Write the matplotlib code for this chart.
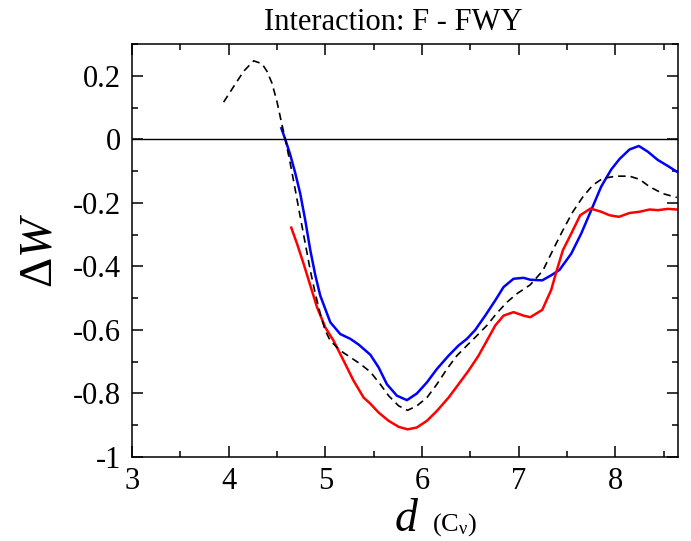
import matplotlib
matplotlib.use("Agg")
import matplotlib.pyplot as plt
from matplotlib.ticker import MultipleLocator

plt.rcParams["font.family"] = ["Liberation Serif", "DejaVu Serif"]
plt.rcParams["mathtext.fontset"] = "custom"
plt.rcParams["mathtext.rm"] = "Liberation Serif"
plt.rcParams["mathtext.it"] = "Liberation Serif:italic"
plt.rcParams["axes.unicode_minus"] = False

# total (dashed black)
total_d = [3.948, 4.052, 4.155, 4.259, 4.345, 4.397, 4.448, 4.5, 4.541, 4.586,
           4.638, 4.69, 4.741, 4.793, 4.845, 4.897, 4.948, 5.0, 5.052, 5.155,
           5.259, 5.362, 5.466, 5.569, 5.655, 5.759, 5.852, 5.948, 6.052, 6.155,
           6.259, 6.362, 6.466, 6.569, 6.672, 6.776, 6.879, 6.983, 7.121, 7.252,
           7.355, 7.459, 7.562, 7.666, 7.769, 7.872, 8.01, 8.148, 8.252, 8.355,
           8.493, 8.638]
total_w = [0.117, 0.166, 0.214, 0.247, 0.238, 0.214, 0.177, 0.119, 0.061, 0.0,
           -0.076, -0.16, -0.244, -0.328, -0.413, -0.486, -0.549, -0.602, -0.634, -0.665,
           -0.686, -0.707, -0.732, -0.771, -0.807, -0.839, -0.853, -0.839, -0.813, -0.771,
           -0.723, -0.681, -0.649, -0.618, -0.586, -0.547, -0.513, -0.486, -0.458, -0.413,
           -0.349, -0.286, -0.228, -0.181, -0.144, -0.123, -0.116, -0.116, -0.126, -0.149,
           -0.171, -0.183]

# blue series
blue_d = [4.545, 4.586, 4.638, 4.69, 4.741, 4.793, 4.845, 4.897, 4.948, 5.0,
          5.052, 5.155, 5.259, 5.345, 5.466, 5.552, 5.638, 5.741, 5.845, 5.948,
          6.052, 6.155, 6.276, 6.379, 6.466, 6.552, 6.655, 6.759, 6.845, 6.948,
          7.052, 7.121, 7.245, 7.338, 7.424, 7.545, 7.648, 7.752, 7.855, 7.959,
          8.045, 8.148, 8.245, 8.338, 8.441, 8.545, 8.638]
blue_w = [0.035, 0.0, -0.049, -0.107, -0.171, -0.255, -0.349, -0.428, -0.492, -0.534,
          -0.576, -0.613, -0.628, -0.646, -0.678, -0.718, -0.771, -0.807, -0.821, -0.8,
          -0.765, -0.723, -0.681, -0.649, -0.628, -0.6, -0.555, -0.507, -0.465, -0.439,
          -0.436, -0.442, -0.444, -0.428, -0.411, -0.36, -0.297, -0.223, -0.149, -0.095,
          -0.062, -0.032, -0.021, -0.039, -0.065, -0.084, -0.102]

# red series
red_d = [4.648, 4.707, 4.776, 4.845, 4.914, 5.0, 5.086, 5.19, 5.293, 5.397,
         5.466, 5.552, 5.655, 5.759, 5.852, 5.948, 6.052, 6.155, 6.276, 6.379,
         6.483, 6.586, 6.672, 6.759, 6.845, 6.948, 7.052, 7.121, 7.245, 7.338,
         7.39, 7.459, 7.545, 7.638, 7.745, 7.855, 7.941, 8.038, 8.148, 8.252,
         8.355, 8.441, 8.545, 8.638]
red_w = [-0.278, -0.328, -0.392, -0.46, -0.528, -0.592, -0.634, -0.697, -0.76, -0.813,
         -0.832, -0.86, -0.886, -0.905, -0.913, -0.907, -0.886, -0.855, -0.813, -0.771,
         -0.728, -0.681, -0.634, -0.586, -0.555, -0.544, -0.555, -0.56, -0.537, -0.474,
         -0.418, -0.349, -0.297, -0.239, -0.218, -0.228, -0.239, -0.244, -0.232, -0.228,
         -0.221, -0.223, -0.219, -0.221]

xticks = [3, 4, 5, 6, 7, 8]
xtick_labels = ["3", "4", "5", "6", "7", "8"]
yticks = [-1, -0.8, -0.6, -0.4, -0.2, 0, 0.2]
ytick_labels = ["-1", "-0.8", "-0.6", "-0.4", "-0.2", "0", "0.2"]

fig = plt.figure(figsize=(6.91, 5.41), dpi=100)
ax = fig.add_axes([132 / 691, 1 - 457 / 541, 546 / 691, 413 / 541])

ax.axhline(0, color="black", lw=1.0, zorder=1)
ax.plot(total_d, total_w, color="black", lw=1.2, dashes=(4.5, 3), zorder=3)
ax.plot(blue_d, blue_w, color="#0000ff", lw=1.8, zorder=2)
ax.plot(red_d, red_w, color="#ff0000", lw=1.8, zorder=2)

ax.set_xlim(3, 8.65)
ax.set_ylim(-1, 0.3)
ax.set_xticks(xticks, labels=xtick_labels)
ax.set_yticks(yticks, labels=ytick_labels)
ax.xaxis.set_minor_locator(MultipleLocator(0.5))
ax.yaxis.set_minor_locator(MultipleLocator(0.1))
ax.tick_params(which="both", direction="in", top=True, right=True, width=1.1,
               labelsize=22, colors="black")
ax.tick_params(which="major", length=8)
ax.tick_params(which="minor", length=4)
ax.tick_params(axis="x", pad=7)
ax.tick_params(axis="y", pad=8)
for s in ax.spines.values():
    s.set_linewidth(1.1)

ax.set_title("Interaction: F - FWY", fontsize=22, x=0.478, pad=10)
ax.set_ylabel(r"$\Delta W$", fontsize=34, labelpad=8)

# x label: big italic d with a smaller unit next to it
fig.text(395 / 691, 1 - 531 / 541, "d", fontsize=33, fontstyle="italic",
         ha="left", va="baseline")
fig.text(432 / 691, 1 - 531 / 541, r"(C$_\mathrm{\nu}$)", fontsize=19,
         ha="left", va="baseline")

fig.savefig("out.png", dpi=100)
